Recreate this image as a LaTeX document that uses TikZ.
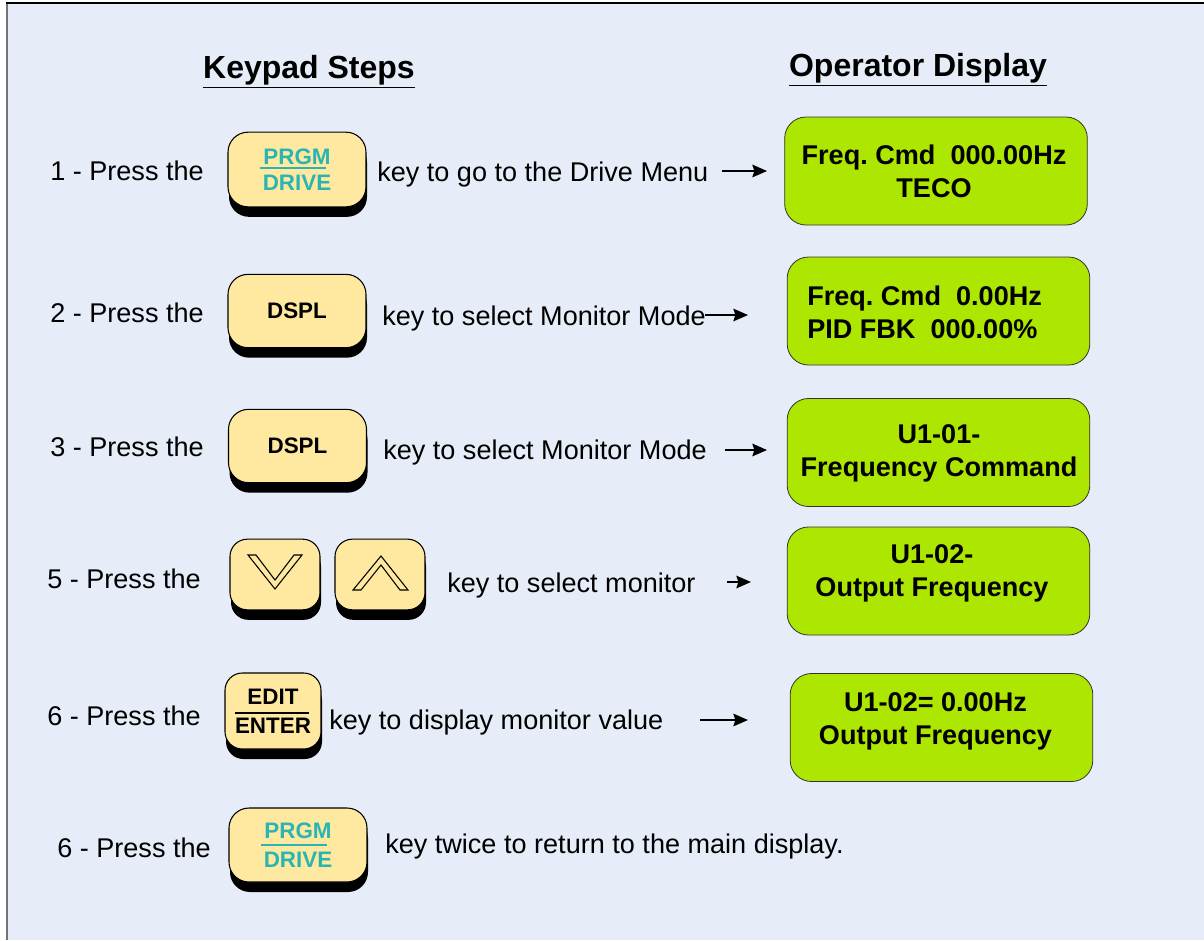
\documentclass[tikz,border=0pt]{standalone}
\usepackage{fontspec}
\setmainfont{Liberation Sans}
\usetikzlibrary{arrows.meta,shadows}
\definecolor{bg}{RGB}{230,237,248}
\definecolor{keyfill}{RGB}{255,232,160}
\definecolor{tealtxt}{RGB}{42,181,178}
\definecolor{lcd}{RGB}{173,230,0}
\frenchspacing
\begin{document}
\begin{tikzpicture}[x=0.75pt,y=-0.75pt,
  keybox/.style={draw=black, line width=0.8pt, fill=keyfill, rounded corners=15pt, inner sep=0pt,
    drop shadow={shadow xshift=0.75pt, shadow yshift=-7.5pt, fill=black, opacity=1},
    font=\fontsize{16.8}{20}\selectfont\bfseries, align=center},
  lcdbox/.style={draw=black!80, line width=0.6pt, fill=lcd, rounded corners=16pt,
    minimum width=227pt, minimum height=81pt, inner sep=0pt},
  lcdtext/.style={font=\fontsize{20.3}{24.75}\selectfont\bfseries, inner sep=0pt},
  body/.style={font=\fontsize{20.3}{24}\selectfont, inner sep=0pt, anchor=base west},
  heading/.style={font=\fontsize{24}{28}\selectfont\bfseries, inner sep=0pt},
  arr/.style={line width=1.1pt, -{Stealth[length=11pt,width=9.5pt,inset=1.5pt]}},
  sepline/.style={line width=1.3pt}
]
\useasboundingbox (0,0) rectangle (1204,940);
\fill[bg] (7,3) rectangle (1204,940);
\draw[black!55, line width=1.5pt] (7,940) -- (7,3);
\draw[black, line width=1.5pt] (6,3) -- (1204,3);

% headings
\node[heading] (hk) at (309,72) {\underline{Keypad Steps}};
\node[heading] (ho) at (918,70) {\underline{Operator Display}};

% row labels
\node[body] (l1) at (50,180) {1 - Press the};
\node[body] (l2) at (50,322) {2 - Press the};
\node[body] (l3) at (50,456) {3 - Press the};
\node[body] (l5) at (47,588) {5 - Press the};
\node[body] (l6) at (47,725) {6 - Press the};
\node[body] (l7) at (57,857) {6 - Press the};

% keys
\node[keybox, minimum width=103.5pt, minimum height=56pt, text=tealtxt] (k1) at (297,169.5) {PRGM\\[-0.5pt]DRIVE};
\draw[sepline, tealtxt] (260,168) -- (326,168);
\node[keybox, minimum width=103.5pt, minimum height=55pt] (k2) at (297,311) {DSPL};
\node[keybox, minimum width=103.5pt, minimum height=55pt] (k3) at (297.5,446) {DSPL};
\node[keybox, minimum width=67.5pt, minimum height=53pt, rounded corners=13pt] (kd) at (275,574.5) {};
\node[keybox, minimum width=67.5pt, minimum height=53pt, rounded corners=13pt] (ku) at (380,574.5) {};
\node[keybox, minimum width=72pt, minimum height=57pt, rounded corners=13pt] (ke) at (273,711) {EDIT\\[2pt]ENTER};
\draw[sepline, black] (235,713) -- (309,713);
\node[keybox, minimum width=103.5pt, minimum height=55.5pt, text=tealtxt] (k7) at (298,845) {PRGM\\[2pt]DRIVE};
\draw[sepline, tealtxt] (261,845) -- (327,845);

% chevrons
\draw[line width=0.8pt, fill=keyfill] (248,555) -- (275,589) -- (302,555) -- (294,555) -- (275,580) -- (256,555) -- cycle;
\draw[line width=0.8pt, fill=keyfill] (353,590) -- (381,556) -- (408,590) -- (400,590) -- (381,565) -- (361,590) -- cycle;

% step texts
\node[body] (t1) at (377,181) {key to go to the Drive Menu};
\node[body] (t2) at (382,325) {key to select Monitor Mode};
\node[body] (t3) at (383,459) {key to select Monitor Mode};
\node[body] (t5) at (447,592) {key to select monitor};
\node[body] (t6) at (329,729) {key to display monitor value};
\node[body] (t7) at (385,853) {key twice to return to the main display.};

% displays
\node[lcdbox] (d1) at (936,171) {};
\node[lcdtext, align=center] (d1t) at (934,171.5) {Freq. Cmd\ \ 000.00Hz\\TECO};
\node[lcdbox] (d2) at (938.5,311) {};
\node[lcdtext, align=left, anchor=west] (d2t) at (807,312.5) {Freq. Cmd\ \ 0.00Hz\\PID FBK\ \ 000.00\%};
\node[lcdbox] (d3) at (938.5,452.5) {};
\node[lcdtext, align=center] (d3t) at (939,453.5) {U1-01-\\Frequency Command};
\node[lcdbox] (d4) at (938.5,581) {};
\node[lcdtext, align=center] (d4t) at (932,573.5) {U1-02-\\Output Frequency};
\node[lcdbox] (d5) at (941.5,727.5) {};
\node[lcdtext, align=center] (d5t) at (935.5,721) {U1-02= 0.00Hz\\Output Frequency};

% arrows
\coordinate (a1s) at (722,171); \coordinate (a1e) at (767,171);
\coordinate (a2s) at (705,315); \coordinate (a2e) at (748,315);
\coordinate (a3s) at (725,450); \coordinate (a3e) at (767,450);
\coordinate (a5s) at (727,582); \coordinate (a5e) at (751,582);
\coordinate (a6s) at (700,720); \coordinate (a6e) at (748,720);
\draw[arr] (a1s) -- (a1e);
\draw[arr] (a2s) -- (a2e);
\draw[arr] (a3s) -- (a3e);
\draw[arr] (a5s) -- (a5e);
\draw[arr] (a6s) -- (a6e);
\end{tikzpicture}
\end{document}
